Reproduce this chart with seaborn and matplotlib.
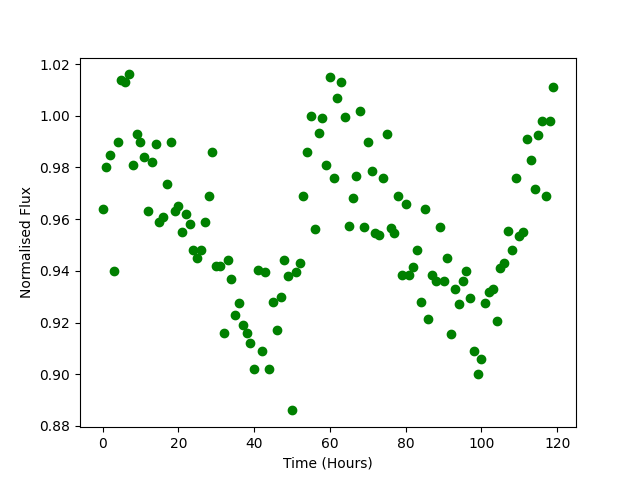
import matplotlib
matplotlib.use("Agg")
import matplotlib.pyplot as plt
import seaborn as sns
import pandas as pd

# Tiempo de observación (horas) y flujo normalizado
tiempo = list(range(120))
flujo = [
    0.964, 0.980, 0.985, 0.940, 0.990, 1.014, 1.013, 1.016, 0.981, 0.993,
    0.990, 0.984, 0.963, 0.982, 0.989, 0.959, 0.961, 0.9735, 0.990, 0.963,
    0.965, 0.955, 0.962, 0.958, 0.948, 0.945, 0.948, 0.959, 0.969, 0.986,
    0.942, 0.942, 0.916, 0.944, 0.937, 0.923, 0.9275, 0.919, 0.916, 0.912,
    0.902, 0.9405, 0.909, 0.9395, 0.902, 0.928, 0.917, 0.930, 0.944, 0.938,
    0.886, 0.9395, 0.943, 0.969, 0.986, 1.000, 0.956, 0.9935, 0.999, 0.981,
    1.015, 0.976, 1.007, 1.013, 0.9995, 0.9575, 0.968, 0.9765, 1.002, 0.957,
    0.990, 0.9785, 0.9545, 0.954, 0.976, 0.993, 0.9565, 0.9545, 0.969, 0.9385,
    0.966, 0.9385, 0.9415, 0.948, 0.928, 0.964, 0.9215, 0.9385, 0.936, 0.957,
    0.936, 0.945, 0.9155, 0.933, 0.927, 0.936, 0.940, 0.9295, 0.909, 0.900,
    0.906, 0.9275, 0.932, 0.933, 0.9205, 0.941, 0.943, 0.9555, 0.948, 0.976,
    0.9535, 0.955, 0.991, 0.983, 0.9715, 0.9925, 0.998, 0.969, 0.998, 1.011,
]

df = pd.DataFrame({"tiempo": tiempo, "flujo": flujo})

fig, ax = plt.subplots(figsize=(6.4, 4.8), dpi=100)
# Marcadores como 'go' de matplotlib: 6 pt con borde de 1 pt
sns.scatterplot(data=df, x="tiempo", y="flujo", color="green", s=36,
                edgecolor="green", linewidth=1, ax=ax)
ax.set_xlabel("Time (Hours)")
ax.set_ylabel("Normalised Flux")
fig.savefig("out.png")
plt.close(fig)
